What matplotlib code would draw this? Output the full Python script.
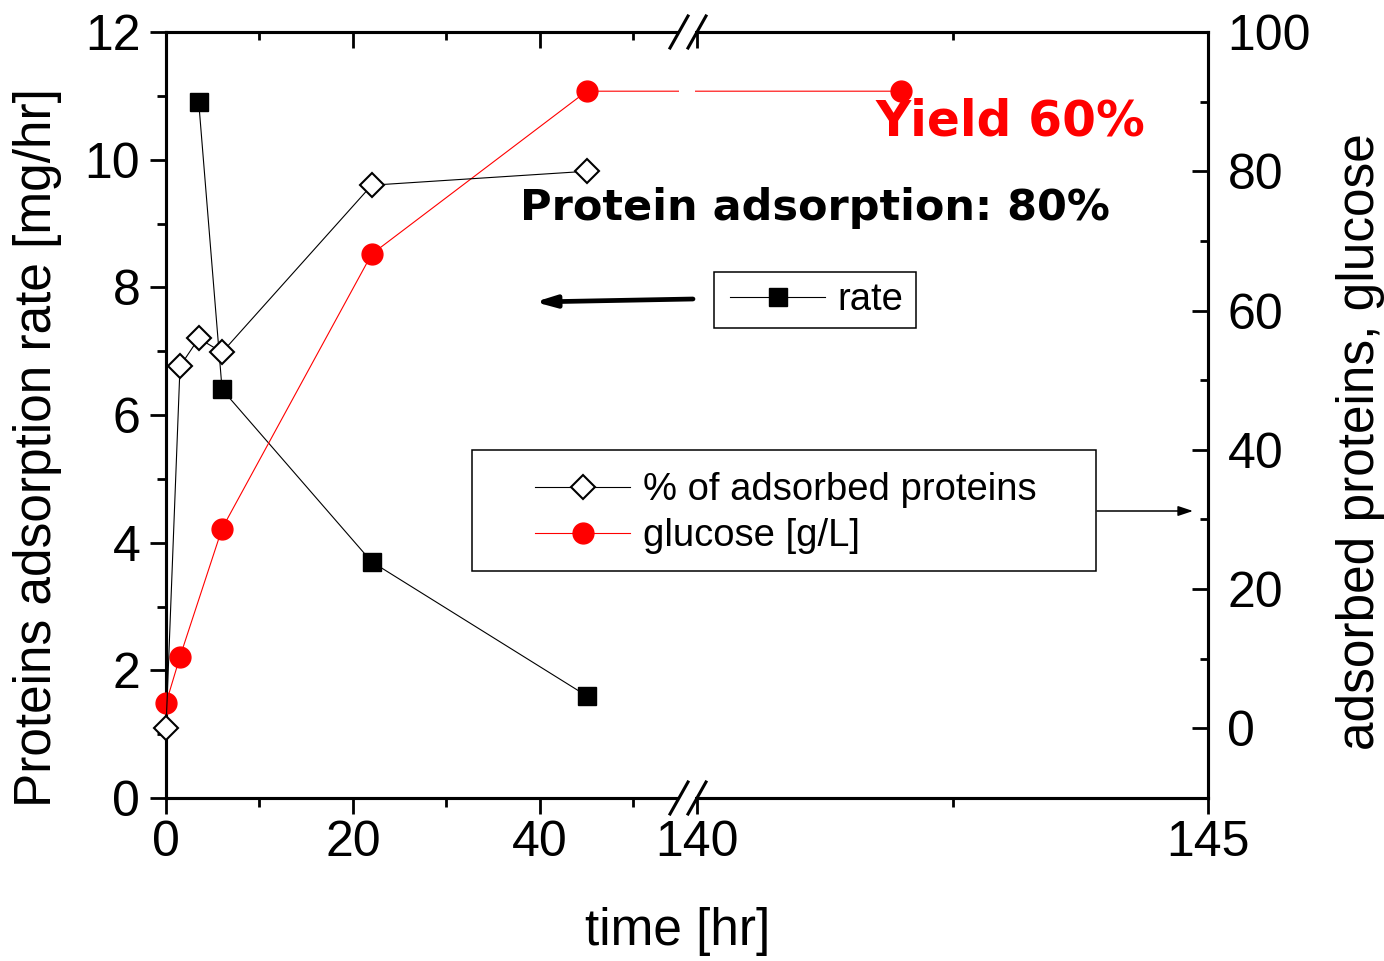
import matplotlib
matplotlib.use("Agg")
import matplotlib.pyplot as plt
import numpy as np
from matplotlib.lines import Line2D
from matplotlib.patches import Rectangle, FancyArrowPatch, ArrowStyle

W, H = 1384, 961

# data
rate_t = [3.5, 6, 22, 45]
rate = [10.9, 6.4, 3.7, 1.6]

ads_t = [0, 1.5, 3.5, 6, 22, 45]
ads = [0, 52, 56, 54, 78, 80]

glc_t = [0, 1.5, 6, 22, 45, 142]
glc = [3.6, 10.3, 28.7, 68.1, 91.5, 91.5]

x_major = [0, 20, 40, 140, 145]
x_minor = [10, 30, 50, 142.5]

# broken x axis: 0..55 linear, squeezed gap, 140..145 stretched
BRK_LO, BRK_HI = 55.0, 140.0
U_HI = 56.8
STRETCH = 10.93


def fwd(x):
    x = np.asarray(x, dtype=float)
    mid = BRK_LO + (x - BRK_LO) * (U_HI - BRK_LO) / (BRK_HI - BRK_LO)
    return np.where(x <= BRK_LO, x,
                    np.where(x >= BRK_HI, U_HI + (x - BRK_HI) * STRETCH, mid))


def inv(u):
    u = np.asarray(u, dtype=float)
    mid = BRK_LO + (u - BRK_LO) * (BRK_HI - BRK_LO) / (U_HI - BRK_LO)
    return np.where(u <= BRK_LO, u,
                    np.where(u >= U_HI, BRK_HI + (u - U_HI) / STRETCH, mid))


plt.rcParams.update({
    "font.family": ["Liberation Sans", "DejaVu Sans"],
    "font.size": 36,
    "axes.labelsize": 37,
    "axes.linewidth": 2.2,
})

fig = plt.figure(figsize=(W / 100, H / 100), dpi=100)
ax = fig.add_axes([166 / W, 1 - 798 / H, (1208 - 166) / W, (798 - 32) / H])
ax.set_xscale("function", functions=(fwd, inv))
ax.set_xlim(0, 145)
ax.set_ylim(0, 12)
ax2 = ax.twinx()
ax2.set_ylim(-10, 100)

(l_rate,) = ax.plot(rate_t, rate, "-", color="black", lw=0.8, marker="s",
                    ms=12.5, mfc="black", mec="black", clip_on=False, zorder=3)
(l_ads,) = ax2.plot(ads_t, ads, "-", color="black", lw=0.8, marker="D",
                    ms=12, mfc="white", mec="black", mew=1.5, clip_on=False, zorder=4)
(l_glc,) = ax2.plot(glc_t, glc, "-", color="red", lw=0.8, marker="o",
                    ms=15, mfc="red", mec="red", clip_on=False, zorder=3)

ax.set_xticks(x_major)
ax.set_xticks(x_minor, minor=True)
ax.set_xticklabels([str(v) for v in x_major])
ax.set_yticks(np.arange(0, 13, 2))
ax.set_yticks(np.arange(1, 12, 2), minor=True)
ax2.set_yticks(np.arange(0, 101, 20))
ax2.set_yticks(np.arange(10, 91, 20), minor=True)

ax.xaxis.set_ticks_position("bottom")
ax.yaxis.set_ticks_position("left")
ax.tick_params(which="major", direction="out", length=11.5, width=2)
ax.tick_params(which="minor", direction="out", length=6.5, width=2)
ax.tick_params(axis="y", pad=7)
ax.tick_params(axis="x", pad=4)

ax2.xaxis.set_visible(True)
ax2.xaxis.set_ticks_position("top")
ax2.tick_params(axis="x", labeltop=False, labelbottom=False)
ax2.tick_params(which="major", direction="in", length=11.5, width=2)
ax2.tick_params(which="minor", direction="in", length=6, width=2)
ax2.tick_params(axis="y", pad=14)

ax.set_xlabel("time [hr]")
ax.xaxis.set_label_coords(0.491, -0.142)
ax.set_ylabel("Proteins adsorption rate [mg/hr]")
ax.yaxis.set_label_coords(-0.10, 0.458)
ax2.set_ylabel("adsorbed proteins, glucose")
ax2.yaxis.set_label_coords(1.123, 0.465)

# gap in the axis at the break (pixel box 679..695 x 20..812, from top)
gap = Rectangle((679 / W, 1 - 812 / H), (695 - 679) / W, (812 - 20) / H,
                transform=fig.transFigure, facecolor="white", edgecolor="none", zorder=1)
fig.add_artist(gap)
for cx in (679, 697):
    for cy in (32, 798):
        fig.add_artist(Line2D([(cx - 9) / W, (cx + 9) / W],
                              [1 - (cy + 16) / H, 1 - (cy - 16) / H],
                              transform=fig.transFigure, color="black", lw=2.2, zorder=2))

fig.text(1010 / W, 1 - 135 / H, "Yield 60%", color="red", fontsize=35,
         fontweight="bold", family="DejaVu Sans", ha="center", va="baseline")
fig.text(815 / W, 1 - 220 / H, "Protein adsorption: 80%", color="black", fontsize=31,
         fontweight="bold", family="DejaVu Sans", ha="center", va="baseline")

# legends with hand-drawn frames
for x0, y0, x1, y1 in [(714, 272, 916, 328), (472, 450, 1096, 571)]:
    fig.add_artist(Rectangle((x0 / W, 1 - y1 / H), (x1 - x0) / W, (y1 - y0) / H,
                             transform=fig.transFigure, facecolor="white",
                             edgecolor="black", lw=1.1, zorder=3))

fig.legend([l_rate], ["rate"], loc="center left", bbox_to_anchor=(730 / W, 1 - 300 / H),
           frameon=False, fontsize=27.5, borderpad=0, borderaxespad=0,
           handlelength=2.5, handletextpad=0.3)
fig.legend([l_ads, l_glc], ["% of adsorbed proteins", "glucose [g/L]"], loc="center left",
           bbox_to_anchor=(535 / W, 1 - 513 / H), frameon=False, fontsize=27.5,
           borderpad=0, borderaxespad=0, handlelength=2.5, handletextpad=0.32,
           labelspacing=0.26)

fig.add_artist(FancyArrowPatch((693 / W, 1 - 299 / H), (535 / W, 1 - 302 / H),
                               transform=fig.transFigure, capstyle="round",
                               arrowstyle=ArrowStyle("-|>", head_length=12, head_width=3.5),
                               mutation_scale=1, lw=3.4, color="black",
                               shrinkA=0, shrinkB=0, zorder=4))
fig.add_artist(FancyArrowPatch((1097 / W, 1 - 511 / H), (1193 / W, 1 - 511 / H),
                               transform=fig.transFigure,
                               arrowstyle=ArrowStyle("-|>", head_length=9, head_width=3),
                               mutation_scale=1, lw=1.1, color="black",
                               shrinkA=0, shrinkB=0, zorder=4))

fig.savefig("out.png", dpi=100)
